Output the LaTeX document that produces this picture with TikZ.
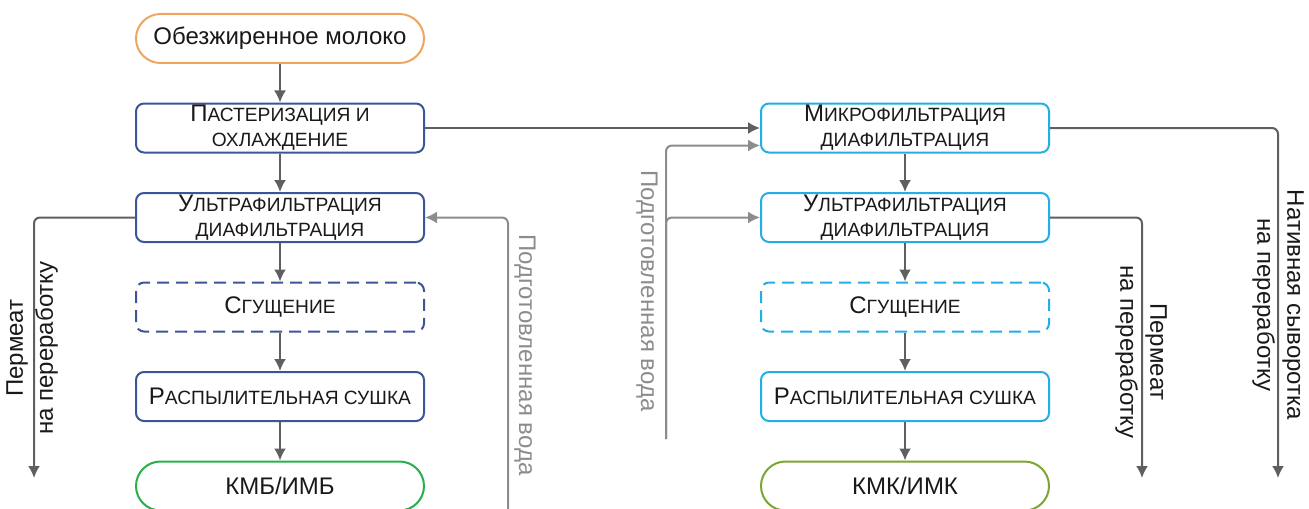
\documentclass[tikz,border=0pt]{standalone}
\usepackage{fontspec}
\setmainfont{Liberation Sans}
\usetikzlibrary{arrows.meta,positioning}
\definecolor{milkor}{RGB}{240,165,95}
\definecolor{lineblue}{RGB}{60,85,150}
\definecolor{linecyan}{RGB}{35,175,230}
\definecolor{prodgreen}{RGB}{40,175,75}
\definecolor{prodolive}{RGB}{125,165,50}
\definecolor{arrgray}{RGB}{95,95,95}
\definecolor{watergray}{RGB}{140,140,140}
\newcommand{\kap}[2]{{\fontsize{12}{12.5}\selectfont #1}{\fontsize{9.6}{12.5}\selectfont #2}}

\begin{document}
\begin{tikzpicture}[>={Latex[length=6pt,width=6pt]},x=0.5pt,y=-0.5pt,node distance=19.25pt]
  \tikzstyle{box}=[draw,line width=1pt,rounded corners=4pt,align=center,minimum width=144pt,minimum height=24.5pt,inner sep=0pt,font=\fontsize{12}{12.5}\selectfont,text=black!90]
  \tikzstyle{pill}=[box,rounded corners=12.25pt]
  \tikzstyle{arr}=[line width=1pt,arrgray,->,rounded corners=3pt]
  \tikzstyle{warr}=[line width=1pt,watergray,->,rounded corners=3pt]
  \tikzstyle{lbl}=[align=center,font=\fontsize{12}{15}\selectfont,text=black!90]
  \useasboundingbox (0,0) rectangle (1309,508);
  % left column
  \node[pill,draw=milkor] (milk) at (280,38.5) {Обезжиренное молоко};
  \node[box,draw=lineblue,below=of milk] (past) {\kap{П}{АСТЕРИЗАЦИЯ И}\\\kap{}{ОХЛАЖДЕНИЕ}};
  \node[box,draw=lineblue,below=of past] (uf1) {\kap{У}{ЛЬТРАФИЛЬТРАЦИЯ}\\\kap{}{ДИАФИЛЬТРАЦИЯ}};
  \node[box,draw=lineblue,dash pattern=on 6pt off 3.5pt,below=of uf1] (sg1) {\kap{С}{ГУЩЕНИЕ}};
  \node[box,draw=lineblue,below=of sg1] (rs1) {\kap{Р}{АСПЫЛИТЕЛЬНАЯ СУШКА}};
  \node[pill,draw=prodgreen,below=of rs1] (kmb) {КМБ/ИМБ};
  % right column
  \node[box,draw=linecyan,right=167.5pt of past] (mf) {\kap{М}{ИКРОФИЛЬТРАЦИЯ}\\\kap{}{ДИАФИЛЬТРАЦИЯ}};
  \node[box,draw=linecyan,below=of mf] (uf2) {\kap{У}{ЛЬТРАФИЛЬТРАЦИЯ}\\\kap{}{ДИАФИЛЬТРАЦИЯ}};
  \node[box,draw=linecyan,dash pattern=on 6pt off 3.5pt,below=of uf2] (sg2) {\kap{С}{ГУЩЕНИЕ}};
  \node[box,draw=linecyan,below=of sg2] (rs2) {\kap{Р}{АСПЫЛИТЕЛЬНАЯ СУШКА}};
  \node[pill,draw=prodolive,below=of rs2] (kmk) {КМК/ИМК};
  \draw[arr] (milk) -- (past);
  \draw[arr] (past) -- (uf1);
  \draw[arr] (uf1) -- (sg1);
  \draw[arr] (sg1) -- (rs1);
  \draw[arr] (rs1) -- (kmb);
  \draw[arr] (past) -- (mf);
  \draw[arr] (mf) -- (uf2);
  \draw[arr] (uf2) -- (sg2);
  \draw[arr] (sg2) -- (rs2);
  \draw[arr] (rs2) -- (kmk);
  % side streams
  \coordinate (perm1) at (34,478);
  \coordinate (perm2) at (1142,478);
  \coordinate (nat) at (1278,478);
  \coordinate (wat1) at (508,512);
  \coordinate (wat2) at (666,439);
  \draw[arr] (uf1.west) -| (perm1);
  \draw[arr] (uf2.east) -| (perm2);
  \draw[arr] (mf.east) -| (nat);
  \draw[warr] (wat1) |- (uf1.east);
  \draw[warr] (wat2) |- (uf2.west);
  \draw[warr] (wat2) |- ([yshift=-8.75pt]mf.west);
  \node[lbl,rotate=90] (lperm1) at (32,348) {Пермеат\\на переработку};
  \node[lbl,rotate=-90] (lperm2) at (1141,352) {Пермеат\\на переработку};
  \node[lbl,rotate=-90] (lnat) at (1278,305) {Нативная сыворотка\\на переработку};
  \node[lbl,text=watergray,rotate=-90] (lwat1) at (525,355) {Подготовленная вода};
  \node[lbl,text=watergray,rotate=-90] (lwat2) at (647,291) {Подготовленная вода};
\end{tikzpicture}
\end{document}
